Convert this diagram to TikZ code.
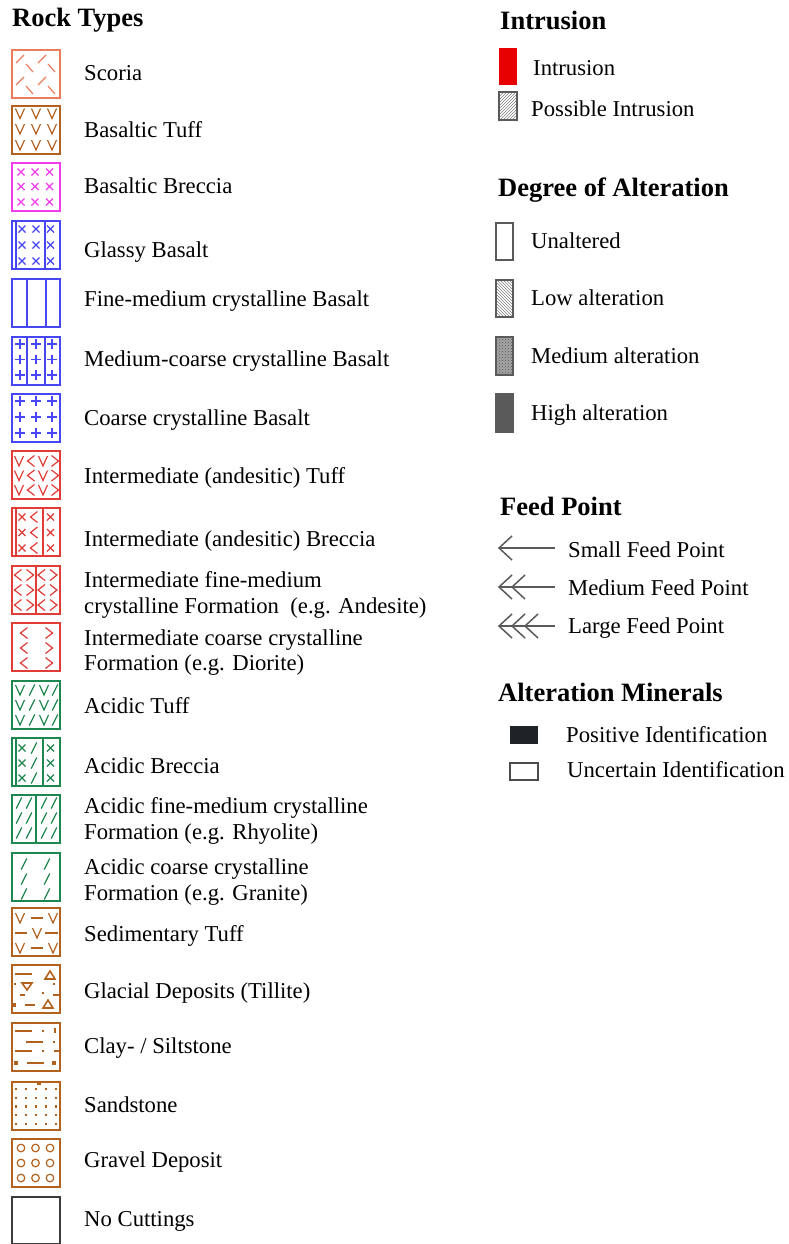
\documentclass[tikz,border=0pt]{standalone}
\usepackage{fontspec}
\setmainfont{Liberation Serif}
\usetikzlibrary{patterns}
\definecolor{cScoria}{RGB}{235,125,95}
\definecolor{cBrown}{RGB}{178,98,30}
\definecolor{cMag}{RGB}{240,60,235}
\definecolor{cBlue}{RGB}{70,70,245}
\definecolor{cRed}{RGB}{225,60,55}
\definecolor{cGreen}{RGB}{30,135,80}
\definecolor{cDark}{RGB}{60,60,60}
\definecolor{cGray}{RGB}{90,90,90}
\definecolor{cIntr}{RGB}{230,0,0}
\definecolor{cMin}{RGB}{30,34,38}
\newcommand\gV[2]{\draw[sym] ({#1-4.5},{#2-5}) -- (#1,{#2+5}) -- ({#1+4.5},{#2-5});}
\newcommand\gX[2]{\draw[sym] ({#1-3.5},{#2-3.5}) -- ({#1+3.5},{#2+3.5}) ({#1-3.5},{#2+3.5}) -- ({#1+3.5},{#2-3.5});}
\newcommand\gP[2]{\draw[sym] ({#1-4.8},#2) -- ({#1+4.8},#2) (#1,{#2-4.8}) -- (#1,{#2+4.8});}
\newcommand\gL[2]{\draw[sym] ({#1+3.5},{#2-5.5}) -- ({#1-3.5},#2) -- ({#1+3.5},{#2+5.5});}
\newcommand\gR[2]{\draw[sym] ({#1-3.5},{#2-5.5}) -- ({#1+3.5},#2) -- ({#1-3.5},{#2+5.5});}
\newcommand\gS[2]{\draw[sym] ({#1-2.8},{#2+5.5}) -- ({#1+2.8},{#2-5.5});}
\newcommand\gD[3]{\draw[sym] (#1,#3) -- (#2,#3);}
\newcommand\gDot[2]{\fill ({#1-1.1},{#2-1.1}) rectangle ({#1+1.1},{#2+1.1});}
\newcommand\gSq[2]{\fill ({#1-1.8},{#2-1.8}) rectangle ({#1+1.8},{#2+1.8});}
\begin{document}
\begin{tikzpicture}[x=1pt,y=-1pt,
  lbl/.style={anchor=base west, inner sep=0pt, font=\fontsize{22.7}{26}\selectfont},
  hdr/.style={anchor=base west, inner sep=0pt, font=\fontsize{26.5}{30}\selectfont\bfseries},
  box/.style={line width=2pt},
  sym/.style={line width=1.2pt},
  vline/.style={line width=1.3pt},
  gline/.style={draw=cGray, line width=1.5pt},
  rbox/.style={draw=cGray, line width=1.2pt}]
\useasboundingbox (0,0) rectangle (789,1244);

% ---------- headers ----------
\node[hdr] (hRock) at (12,27) {Rock Types};
\node[hdr] (hIntr) at (500,30) {Intrusion};
\node[hdr] (hDeg) at (498,196) {Degree of Alteration};
\node[hdr] (hFeed) at (500,515) {Feed Point};
\node[hdr] (hMin) at (498,701) {Alteration Minerals};

% ---------- rock type labels ----------
\node[lbl] (t1) at (84,80.5) {Scoria};
\node[lbl] (t2) at (84,137.5) {Basaltic Tuff};
\node[lbl] (t3) at (84,193.5) {Basaltic Breccia};
\node[lbl] (t4) at (84,257.5) {Glassy Basalt};
\node[lbl] (t5) at (84,306.5) {Fine-medium crystalline Basalt};
\node[lbl] (t6) at (84,366.5) {Medium-coarse crystalline Basalt};
\node[lbl] (t7) at (84,425.5) {Coarse crystalline Basalt};
\node[lbl] (t8) at (84,483.5) {Intermediate (andesitic) Tuff};
\node[lbl] (t9) at (84,546.5) {Intermediate (andesitic) Breccia};
\node[lbl] (t10a) at (84,587.5) {Intermediate fine-medium};
\node[lbl] (t10b) at (84,613.5) {crystalline Formation\ \ (e.g. Andesite)};
\node[lbl] (t11a) at (84,645.5) {Intermediate coarse crystalline};
\node[lbl] (t11b) at (84,670.5) {Formation (e.g. Diorite)};
\node[lbl] (t12) at (84,713.5) {Acidic Tuff};
\node[lbl] (t13) at (84,773.5) {Acidic Breccia};
\node[lbl] (t14a) at (84,813.5) {Acidic fine-medium crystalline};
\node[lbl] (t14b) at (84,839.5) {Formation (e.g. Rhyolite)};
\node[lbl] (t15a) at (84,874.5) {Acidic coarse crystalline};
\node[lbl] (t15b) at (84,900.5) {Formation (e.g. Granite)};
\node[lbl] (t16) at (84,941.5) {Sedimentary Tuff};
\node[lbl] (t17) at (84,998.5) {Glacial Deposits (Tillite)};
\node[lbl] (t18) at (84,1053.5) {Clay- / Siltstone};
\node[lbl] (t19) at (84,1112.5) {Sandstone};
\node[lbl] (t20) at (84,1167.5) {Gravel Deposit};
\node[lbl] (t21) at (84,1226.5) {No Cuttings};

% ---------- rock type boxes ----------
% Scoria
\begin{scope}[shift={(12,50)},color=cScoria]
  \draw[box] (0,0) rectangle (48,48);
  \foreach \dx/\dy in {0/0,22/0,0/22,22/22}{
    \draw[sym] ({4+\dx},{13+\dy}) -- ({12+\dx},{5+\dy});
    \draw[sym] ({14+\dx},{14+\dy}) -- ({21+\dx},{22+\dy});}
\end{scope}
% Basaltic Tuff
\begin{scope}[shift={(12,106)},color=cBrown]
  \draw[box] (0,0) rectangle (48,48);
  \foreach \x in {8,24,40}{\foreach \y in {7.5,23,39}{\gV{\x}{\y}}}
\end{scope}
% Basaltic Breccia
\begin{scope}[shift={(12,163)},color=cMag]
  \draw[box] (0,0) rectangle (48,48);
  \foreach \x in {9,23,37.5}{\foreach \y in {9,23.5,39}{\gX{\x}{\y}}}
\end{scope}
% Glassy Basalt
\begin{scope}[shift={(12,221)},color=cBlue]
  \draw[box] (0,0) rectangle (48,48);
  \draw[vline] (4,0) -- (4,48) (33,0) -- (33,48);
  \foreach \x in {10,24,38.5}{\foreach \y in {8,24,40}{\gX{\x}{\y}}}
\end{scope}
% Fine-medium crystalline Basalt
\begin{scope}[shift={(12,279)},color=cBlue]
  \draw[box] (0,0) rectangle (48,48);
  \draw[vline] (15,0) -- (15,48) (34,0) -- (34,48);
\end{scope}
% Medium-coarse crystalline Basalt
\begin{scope}[shift={(12,337)},color=cBlue]
  \draw[box] (0,0) rectangle (48,48);
  \draw[vline] (15,0) -- (15,48) (33,0) -- (33,48);
  \foreach \x in {8,24,40}{\foreach \y in {7,22.5,38}{\gP{\x}{\y}}}
\end{scope}
% Coarse crystalline Basalt
\begin{scope}[shift={(12,394)},color=cBlue]
  \draw[box] (0,0) rectangle (48,48);
  \foreach \x in {8,24,40}{\foreach \y in {7,23,39}{\gP{\x}{\y}}}
\end{scope}
% Intermediate Tuff
\begin{scope}[shift={(12,451)},color=cRed]
  \draw[box] (0,0) rectangle (48,48);
  \foreach \y in {10,24.5,39}{\gV{7}{\y}\gL{19}{\y}\gV{31}{\y}\gR{43}{\y}}
\end{scope}
% Intermediate Breccia
\begin{scope}[shift={(12,508)},color=cRed]
  \draw[box] (0,0) rectangle (48,48);
  \draw[vline] (4,0) -- (4,48) (31,0) -- (31,48);
  \foreach \y in {9,24.5,40}{\gX{10}{\y}\gL{22}{\y}\gX{38.5}{\y}}
\end{scope}
% Intermediate fine-medium
\begin{scope}[shift={(12,566)},color=cRed]
  \draw[box] (0,0) rectangle (48,48);
  \draw[vline] (24,0) -- (24,48);
  \foreach \y in {9,24,39}{\gL{6}{\y}\gR{18}{\y}\gL{29.5}{\y}\gR{41.5}{\y}}
\end{scope}
% Intermediate coarse
\begin{scope}[shift={(12,623)},color=cRed]
  \draw[box] (0,0) rectangle (48,48);
  \foreach \y in {10,25,40}{\gL{12}{\y}\gR{37}{\y}}
\end{scope}
% Acidic Tuff
\begin{scope}[shift={(12,681)},color=cGreen]
  \draw[box] (0,0) rectangle (48,48);
  \foreach \y in {9,24,39}{\gV{8}{\y}\gS{20}{\y}\gV{32}{\y}\gS{43}{\y}}
\end{scope}
% Acidic Breccia
\begin{scope}[shift={(12,738)},color=cGreen]
  \draw[box] (0,0) rectangle (48,48);
  \draw[vline] (4,0) -- (4,48) (31,0) -- (31,48);
  \foreach \y in {10,25,40}{\gX{10}{\y}\gS{22}{\y}\gX{38.5}{\y}}
\end{scope}
% Acidic fine-medium
\begin{scope}[shift={(12,795)},color=cGreen]
  \draw[box] (0,0) rectangle (48,48);
  \draw[vline] (24,0) -- (24,48);
  \foreach \y in {8,23,38}{\gS{7}{\y}\gS{17}{\y}\gS{32}{\y}\gS{42}{\y}}
\end{scope}
% Acidic coarse
\begin{scope}[shift={(12,853)},color=cGreen]
  \draw[box] (0,0) rectangle (48,48);
  \foreach \y in {11,26,41}{\gS{12}{\y}\gS{35}{\y}}
\end{scope}
% Sedimentary Tuff
\begin{scope}[shift={(12,908)},color=cBrown]
  \draw[box] (0,0) rectangle (48,48);
  \gV{8}{10}\gD{19}{31}{10}\gV{41}{10}
  \gD{3}{15}{25}\gV{25}{25}\gD{33}{46}{25}
  \gV{8}{40}\gD{19}{31}{40}\gV{41}{40}
\end{scope}
% Glacial Deposits
\begin{scope}[shift={(12,965)},color=cBrown]
  \draw[box] (0,0) rectangle (48,48);
  \draw[line width=1.5pt] (3,9) -- (20,9);
  \draw[line width=1.6pt] (33,14) -- (43,14) -- (38,6) -- cycle;
  \gDot{3}{19}
  \draw[line width=1.6pt] (10,18) -- (20,18) -- (15,25) -- cycle;
  \gDot{42}{19}
  \draw[sym] (8,30) -- (13,30);
  \gDot{31}{28}
  \draw[sym] (41,30) -- (48,30);
  \gSq{2.5}{40}
  \draw[line width=1.4pt] (13,40) -- (23,40);
  \draw[line width=1.6pt] (31,43) -- (41,43) -- (36,35) -- cycle;
\end{scope}
% Clay- / Siltstone
\begin{scope}[shift={(12,1023)},color=cBrown]
  \draw[box] (0,0) rectangle (48,48);
  \draw[sym] (3,8) -- (20,8); \gDot{31}{8} \draw[sym] (43,5) -- (43,10);
  \draw[sym] (14,19) -- (31,19); \gDot{42}{19}
  \draw[sym] (3,28) -- (20,28); \gDot{31}{28} \draw[sym] (42,28) -- (48,28);
  \gSq{4}{40} \draw[sym] (15,40) -- (32,40); \gSq{42}{40}
\end{scope}
% Sandstone
\begin{scope}[shift={(12,1082)},color=cBrown]
  \draw[box] (0,0) rectangle (48,48);
  \foreach \x in {4,14,24,34,44}{\foreach \y in {7,16,24.5,33,42}{\fill ({\x-1.1},{\y-1.1}) rectangle ({\x+1.1},{\y+1.1});}}
  \fill (25,-1) rectangle (29,3);
\end{scope}
% Gravel
\begin{scope}[shift={(12,1139)},color=cBrown]
  \draw[box] (0,0) rectangle (48,48);
  \foreach \x in {9,23.5,38}{\foreach \y in {9,24,39}{\draw[line width=1.2pt] (\x,\y) circle (3.8);}}
\end{scope}
% No cuttings
\begin{scope}[shift={(12,1197)},color=cDark]
  \draw[box] (0,0) rectangle (48,47);
\end{scope}

% ---------- Intrusion ----------
\fill[cIntr] (499,48) rectangle (517,85);
\node[lbl] (i1) at (533,75.5) {Intrusion};
\draw[rbox, pattern=north east lines, pattern color=gray] (499,92) rectangle (517,120);
\node[lbl] (i2) at (531,116.5) {Possible Intrusion};

% ---------- Degree of alteration ----------
\draw[rbox] (496,223) rectangle (513,260);
\node[lbl] (a1) at (531,248.5) {Unaltered};
\draw[rbox, pattern=north west lines, pattern color=gray] (496,280) rectangle (513,317);
\node[lbl] (a2) at (531,305.5) {Low alteration};
\fill[gray!70] (496,337) rectangle (513,375);
\draw[rbox, pattern=crosshatch dots, pattern color=black!70] (496,337) rectangle (513,375);
\node[lbl] (a3) at (531,363.5) {Medium alteration};
\draw[rbox, fill=cGray] (496,394) rectangle (513,432);
\node[lbl] (a4) at (531,420.5) {High alteration};

% ---------- Feed points ----------
\coordinate (f1s) at (499,548); \coordinate (f1e) at (555,548);
\draw[gline] (f1s) -- (f1e);
\draw[gline] (512,536) -- (f1s) -- (512,560);
\node[lbl] (fp1) at (568,557.5) {Small Feed Point};

\coordinate (f2s) at (499,587); \coordinate (f2e) at (555,587);
\draw[gline] (f2s) -- (f2e);
\foreach \d in {0,13}{\draw[gline] ({512+\d},575) -- ({499+\d},587) -- ({512+\d},599);}
\node[lbl] (fp2) at (568,595.5) {Medium Feed Point};

\coordinate (f3s) at (499,626); \coordinate (f3e) at (555,626);
\draw[gline] (f3s) -- (f3e);
\foreach \d in {0,13,26}{\draw[gline] ({512+\d},614) -- ({499+\d},626) -- ({512+\d},638);}
\node[lbl] (fp3) at (568,633.5) {Large Feed Point};

% ---------- Alteration minerals ----------
\fill[cMin] (510,726) rectangle (538,744);
\node[lbl] (m1) at (566,742.5) {Positive Identification};
\draw[draw=black!70, line width=1.5pt] (510,763) rectangle (538,780);
\node[lbl] (m2) at (567,777.5) {Uncertain Identification};
\end{tikzpicture}
\end{document}
